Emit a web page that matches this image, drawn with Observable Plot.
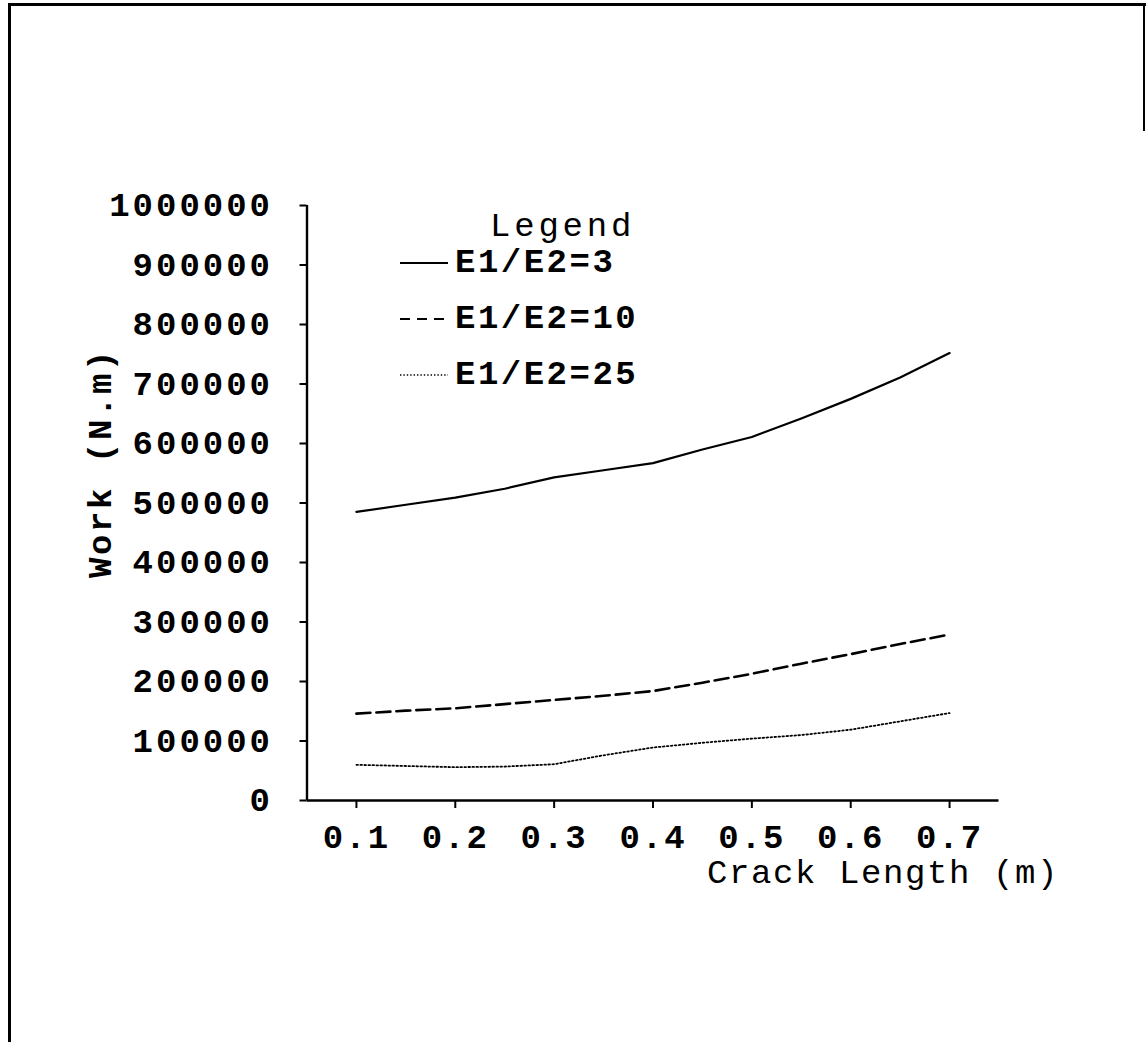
<!DOCTYPE html>
<html>
<head>
<meta charset="utf-8">
<script src="https://cdn.jsdelivr.net/npm/d3@7"></script>
<script src="https://cdn.jsdelivr.net/npm/@observablehq/plot@0.6"></script>
<style>
  html, body { margin: 0; padding: 0; background: #fff; }
  #wrap { position: relative; width: 1146px; height: 1042px; overflow: hidden; }
  #wrap svg.plot { position: absolute; left: 0; top: 0; }
  .frame-top { position: absolute; left: 8px; top: 3px; width: 1138px; height: 3px; background: #000; }
  .frame-left { position: absolute; left: 8px; top: 3px; width: 3px; height: 1039px; background: #000; }
  .frame-right { position: absolute; left: 1143px; top: 3px; width: 2px; height: 128px; background: #000; }
  #legend { position: absolute; left: 0; top: 0; font-family: "Liberation Mono", "DejaVu Sans Mono", monospace; color: #000; }
  #legend .title { position: absolute; left: 490px; top: 207px; font-size: 34px; letter-spacing: 3.8px; line-height: 40px; white-space: nowrap; }
  #legend .item { position: absolute; left: 398px; height: 40px; white-space: nowrap; }
  #legend .item svg { position: absolute; left: 0; top: 0; }
  #legend .item span { position: absolute; left: 57px; top: 0; font-size: 34px; font-weight: bold; letter-spacing: 2.5px; line-height: 40px; }
</style>
</head>
<body>
<div id="wrap">
  <div class="frame-top"></div>
  <div class="frame-left"></div>
  <div class="frame-right"></div>
</div>
<script>
// ---- data ----
const crackLength = [0.1, 0.15, 0.2, 0.25, 0.3, 0.35, 0.4, 0.45, 0.5, 0.55, 0.6, 0.65, 0.7];
const seriesNames = ["E1/E2=3", "E1/E2=10", "E1/E2=25"];
const workE3  = [485000, 497000, 509000, 524000, 543000, 555000, 567000, 590000, 611000, 642000, 675000, 711000, 752000];
const workE10 = [146000, 151000, 155000, 162000, 169000, 176000, 184000, 198000, 213000, 230000, 246000, 263000, 279000];
const workE25 = [60000, 58000, 56000, 57000, 61000, 76000, 89000, 97000, 104000, 110000, 119000, 133000, 147000];
const xTicks = [0.1, 0.2, 0.3, 0.4, 0.5, 0.6, 0.7];
const yTicks = [0, 100000, 200000, 300000, 400000, 500000, 600000, 700000, 800000, 900000, 1000000];
const xTitle = "Crack Length (m)";
const yTitle = "Work (N.m)";
const legendTitle = "Legend";

// ---- build tidy table ----
const seriesValues = [workE3, workE10, workE25];
const rows = [];
seriesNames.forEach((name, si) => {
  crackLength.forEach((x, i) => rows.push({series: name, x, y: seriesValues[si][i]}));
});
const styleOf = {
  "E1/E2=3":  {dash: null,    width: 2.2},
  "E1/E2=10": {dash: "14,6",  width: 2.6},
  "E1/E2=25": {dash: "1.6,2.4", width: 1.8}
};

const font = "Liberation Mono, DejaVu Sans Mono, monospace";

const chart = Plot.plot({
  width: 1146,
  height: 1042,
  marginLeft: 306.5,
  marginRight: 147.5,
  marginTop: 205,
  marginBottom: 242,
  style: {fontFamily: font, background: "transparent", color: "#000", overflow: "visible"},
  x: {domain: [0.05, 0.75]},
  y: {domain: [0, 1000000]},
  marks: [
    Plot.ruleY([0], {stroke: "#000", strokeWidth: 2.4}),
    Plot.ruleX([0.05], {stroke: "#000", strokeWidth: 2.4}),
    Plot.axisY({
      ticks: yTicks, tickSize: 7, tickPadding: 27, tickFormat: d => String(d),
      fontSize: 34, fontWeight: "bold", stroke: "#000", strokeWidth: 2, label: null
    }),
    Plot.axisX({
      ticks: xTicks, tickSize: 8, tickPadding: 15, tickFormat: d3.format(".1f"),
      fontSize: 34, fontWeight: "bold", stroke: "#000", strokeWidth: 2, label: null
    }),
    ...seriesNames.map(name => Plot.line(rows.filter(r => r.series === name), {
      x: "x", y: "y", stroke: "#000",
      strokeWidth: styleOf[name].width,
      strokeDasharray: styleOf[name].dash,
      curve: "linear"
    })),
    Plot.text([xTitle], {
      frameAnchor: "bottom-right", textAnchor: "end", dx: 60, dy: 82,
      fontSize: 34, fontFamily: font, fill: "#000"
    }),
    Plot.text([yTitle], {
      frameAnchor: "left", textAnchor: "middle", rotate: -90, dx: -207, dy: -40,
      fontSize: 34, fontWeight: "bold", fontFamily: font, fill: "#000"
    })
  ]
});
chart.classList.add("plot");
chart.querySelectorAll("[aria-label='y-axis tick label'] text").forEach(t => t.setAttribute("letter-spacing", "3"));
chart.querySelectorAll("[aria-label='x-axis tick label'] text").forEach(t => t.setAttribute("letter-spacing", "2"));
const texts = chart.querySelectorAll("[aria-label='text'] text");
if (texts[0]) texts[0].setAttribute("letter-spacing", "1.6");
if (texts[1]) texts[1].setAttribute("letter-spacing", "2.6");
document.getElementById("wrap").appendChild(chart);

// ---- legend ----
const legend = d3.select("#wrap").append("div").attr("id", "legend");
legend.append("div").attr("class", "title").text(legendTitle);
const legendTop = [243, 299, 355];
seriesNames.forEach((name, i) => {
  const item = legend.append("div").attr("class", "item").style("top", legendTop[i] + "px");
  const s = item.append("svg").attr("width", 54).attr("height", 40);
  s.append("line").attr("x1", 2).attr("x2", 50).attr("y1", 20).attr("y2", 20)
    .attr("stroke", "#000")
    .attr("stroke-width", i === 2 ? 1.4 : 2)
    .attr("stroke-dasharray", i === 0 ? null : i === 1 ? "10,7" : "1.4,2");
  item.append("span").text(name);
});
</script>
</body>
</html>
